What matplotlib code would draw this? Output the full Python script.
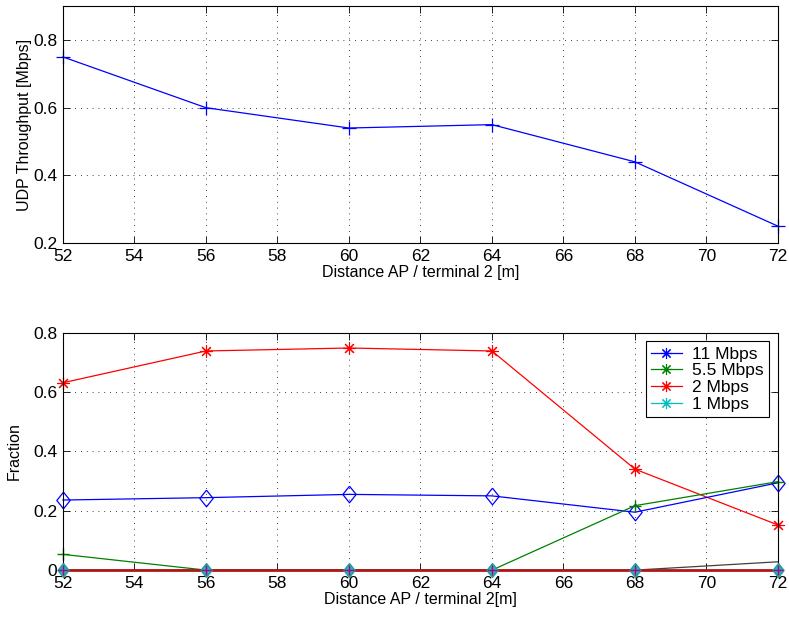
import numpy as np
import matplotlib
matplotlib.use('Agg')
import matplotlib.pyplot as plt
from matplotlib.lines import Line2D

plt.rcParams['font.family'] = ['Liberation Sans', 'DejaVu Sans']
plt.rcParams['font.size'] = 11.5

# distances and measurements
distance = [52, 56, 60, 64, 68, 72]
throughput = [0.75, 0.60, 0.54, 0.55, 0.44, 0.25]

frac_11 = [0.236, 0.244, 0.255, 0.250, 0.195, 0.294]
frac_55 = [0.053, 0.0, 0.0, 0.0, 0.217, 0.298]
frac_2 = [0.631, 0.738, 0.748, 0.738, 0.340, 0.152]
frac_1 = [0.0, 0.0, 0.0, 0.0, 0.0, 0.0]
frac_other = [0.0, 0.0, 0.0, 0.0, 0.0, 0.028]
frac_zero = [0.0, 0.0, 0.0, 0.0, 0.0, 0.0]

legend_labels = ['11 Mbps', '5.5 Mbps', '2 Mbps', '1 Mbps']
legend_colors = ['#0000ff', '#008000', '#ff0000', '#00bfbf']

xticks = np.arange(52, 73, 2)
ASTER = (8, 2, 0)  # matlab-like asterisk
DIAM = [(0, 1), (0.8, 0), (0, -1), (-0.8, 0), (0, 1)]  # matlab diamond

fig = plt.figure(figsize=(7.89, 6.17), dpi=100)
ax1 = fig.add_axes([0.0798, 0.606, 0.9062, 0.384])
ax2 = fig.add_axes([0.0798, 0.076, 0.9062, 0.385])


def style(ax):
    ax.set_xlim(52, 72)
    ax.set_xticks(xticks)
    ax.grid(True, linestyle=(0, (1, 6)), color='black', linewidth=0.6)
    ax.tick_params(direction='in', top=True, right=True, length=5, width=0.6,
                   labelsize=12.5, pad=4)
    for s in ax.spines.values():
        s.set_linewidth(0.8)
    ax.set_axisbelow(True)


# top panel
ax1.plot(distance, throughput, color='#0000ff', marker='+', markersize=10,
         markeredgewidth=0.9, linewidth=0.9, clip_on=False)
ax1.set_ylim(0.2, 0.9)
ax1.set_yticks([0.2, 0.4, 0.6, 0.8])
ax1.set_yticklabels(['0.2', '0.4', '0.6', '0.8'])
ax1.set_xlabel('Distance AP / terminal 2 [m]', labelpad=1)
ax1.set_ylabel('UDP Throughput [Mbps]', labelpad=1)
style(ax1)

# bottom panel
ax2.plot(distance, frac_2, color='#ff0000', marker=ASTER, markersize=9,
         markeredgewidth=0.8, linewidth=0.9, clip_on=False)
ax2.plot(distance, frac_11, color='#0000ff', marker=DIAM, markersize=12,
         markerfacecolor='none', markeredgewidth=0.9, linewidth=0.9,
         clip_on=False)
ax2.plot(distance, frac_55, color='#008000', marker='+', markersize=8,
         linewidth=0.9, clip_on=False)
ax2.plot(distance, frac_other, color='#404040', linewidth=0.9, clip_on=False)
ax2.plot(distance, frac_zero, color='#b01818', linewidth=2.0, clip_on=False,
         zorder=3)
ax2.plot(distance, frac_1, color='#20a0a0', marker=DIAM, markersize=10,
         markerfacecolor='#30b0a0', linestyle='none', clip_on=False, zorder=3.1)
ax2.plot(distance, frac_zero, color='#a000a0', marker='+', markersize=7,
         linestyle='none', clip_on=False, zorder=3.2)
ax2.set_ylim(0, 0.8)
ax2.set_yticks([0, 0.2, 0.4, 0.6, 0.8])
ax2.set_yticklabels(['0', '0.2', '0.4', '0.6', '0.8'])
ax2.set_xlabel('Distance AP / terminal 2[m]', labelpad=1)
ax2.set_ylabel('Fraction', labelpad=8)
style(ax2)

handles = [Line2D([], [], color=c, marker=ASTER, markersize=8,
                  markeredgewidth=0.8, linewidth=0.9)
           for c in legend_colors]
leg = ax2.legend(handles, legend_labels, loc='upper right', fancybox=False,
                 edgecolor='black', framealpha=1, fontsize=12.5,
                 borderaxespad=0.5, handlelength=1.8, handletextpad=0.6,
                 labelspacing=0.1, borderpad=0.3)
leg.get_frame().set_linewidth(0.8)

fig.savefig('out.png', dpi=100)
